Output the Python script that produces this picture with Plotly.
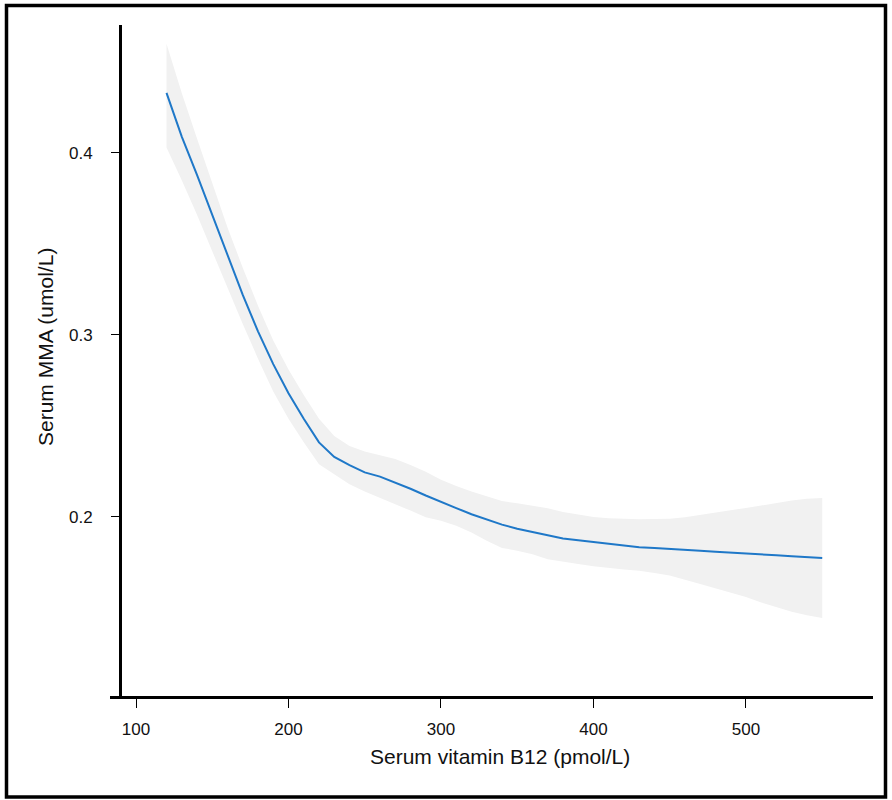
import plotly.graph_objects as go

# Serum vitamin B12 (pmol/L)
b12 = [120, 130, 140, 150, 160, 170, 180, 190, 200, 210, 220, 230, 240, 250, 260,
       270, 280, 290, 300, 310, 320, 330, 340, 350, 360, 370, 380, 390, 400, 410,
       420, 430, 440, 450, 460, 470, 480, 490, 500, 510, 520, 530, 540, 550]
# Fitted serum MMA (umol/L)
mma_fit = [0.433, 0.409, 0.388, 0.366, 0.343, 0.322, 0.302, 0.284, 0.268, 0.254,
           0.241, 0.233, 0.2285, 0.2245, 0.2222, 0.219, 0.2155, 0.2118, 0.2082, 0.2049,
           0.2015, 0.1986, 0.1958, 0.1935, 0.1918, 0.1897, 0.1882, 0.1872, 0.1862, 0.1852,
           0.1843, 0.1834, 0.1830, 0.1826, 0.1820, 0.1815, 0.1809, 0.1805, 0.1801, 0.1797,
           0.1790, 0.1784, 0.1780, 0.1775]
mma_upper = [0.460, 0.433, 0.408, 0.384, 0.359, 0.337, 0.316, 0.297, 0.281, 0.267,
             0.254, 0.2445, 0.2390, 0.2360, 0.2338, 0.2318, 0.2285, 0.2248, 0.2205, 0.2170,
             0.2140, 0.2112, 0.2088, 0.2075, 0.2060, 0.2048, 0.2028, 0.2012, 0.2000, 0.1993,
             0.1989, 0.1988, 0.1989, 0.1990, 0.1998, 0.2010, 0.2022, 0.2035, 0.2050, 0.2063,
             0.2077, 0.2090, 0.2100, 0.2105]
mma_lower = [0.403, 0.385, 0.366, 0.347, 0.326, 0.306, 0.287, 0.269, 0.254, 0.241,
             0.229, 0.2235, 0.218, 0.214, 0.2105, 0.207, 0.2035, 0.1998, 0.1980, 0.1952,
             0.1915, 0.1870, 0.1830, 0.1815, 0.1795, 0.1768, 0.1755, 0.1742, 0.1730, 0.1720,
             0.1712, 0.1705, 0.1692, 0.1678, 0.1655, 0.1632, 0.1608, 0.1585, 0.1560, 0.1530,
             0.1505, 0.1480, 0.1460, 0.1445]

x_ticks = [100, 200, 300, 400, 500]
y_ticks = [0.2, 0.3, 0.4]

W, H = 892, 800
L, R, T, B = 110, 873, 25, 697
FONT = "Arial, 'Liberation Sans', sans-serif"

def px(xp):
    return (xp - L) / (R - L)

def py(yp):
    return (B - yp) / (B - T)

fig = go.Figure()
fig.add_trace(go.Scatter(x=b12 + b12[::-1], y=mma_upper + mma_lower[::-1],
                         fill="toself", fillcolor="#f1f1f1", line=dict(width=0),
                         mode="lines", hoverinfo="skip", showlegend=False))
fig.add_trace(go.Scatter(x=b12, y=mma_fit, mode="lines",
                         line=dict(color="#1f78c8", width=2), showlegend=False))

fig.update_layout(
    width=W, height=H,
    margin=dict(l=L, r=W - R, t=T, b=H - B, pad=0),
    paper_bgcolor="white", plot_bgcolor="white",
    font=dict(family=FONT, size=17, color="#111"),
    xaxis=dict(range=[82.95, 583.3], tickvals=x_ticks, ticks="outside", ticklen=9,
               tickwidth=1, tickcolor="black", showline=True, linewidth=3,
               linecolor="black", showgrid=False, zeroline=False,
               anchor="free", position=0, ticklabelstandoff=7,
               tickfont=dict(size=17, family=FONT)),
    yaxis=dict(range=[0.1011, 0.4703], tickvals=y_ticks, tickformat=".1f",
               ticks="outside", ticklen=8, tickwidth=1, tickcolor="black",
               showline=True, linewidth=3, linecolor="black", showgrid=False,
               zeroline=False, anchor="free", position=px(120),
               ticklabelstandoff=15, tickfont=dict(size=17, family=FONT)),
    annotations=[
        dict(text="Serum vitamin B12 (pmol/L)", xref="paper", yref="paper",
             x=px(500), y=py(757), showarrow=False,
             font=dict(size=21, family=FONT, color="#111"),
             xanchor="center", yanchor="middle"),
        dict(text="Serum MMA (umol/L)", xref="paper", yref="paper",
             x=px(45), y=py(347), showarrow=False, textangle=-90,
             font=dict(size=21, family=FONT, color="#111"),
             xanchor="center", yanchor="middle"),
    ],
    shapes=[
        dict(type="rect", xref="paper", yref="paper",
             x0=px(6.5), x1=px(885.5), y0=py(797), y1=py(5.5),
             line=dict(color="black", width=3.5), fillcolor="rgba(0,0,0,0)",
             layer="above"),
    ],
)

fig.write_html("out.html",
               config={"displayModeBar": False},
               post_script="document.body.style.margin='0px';"
                           "document.body.style.overflow='hidden';")
